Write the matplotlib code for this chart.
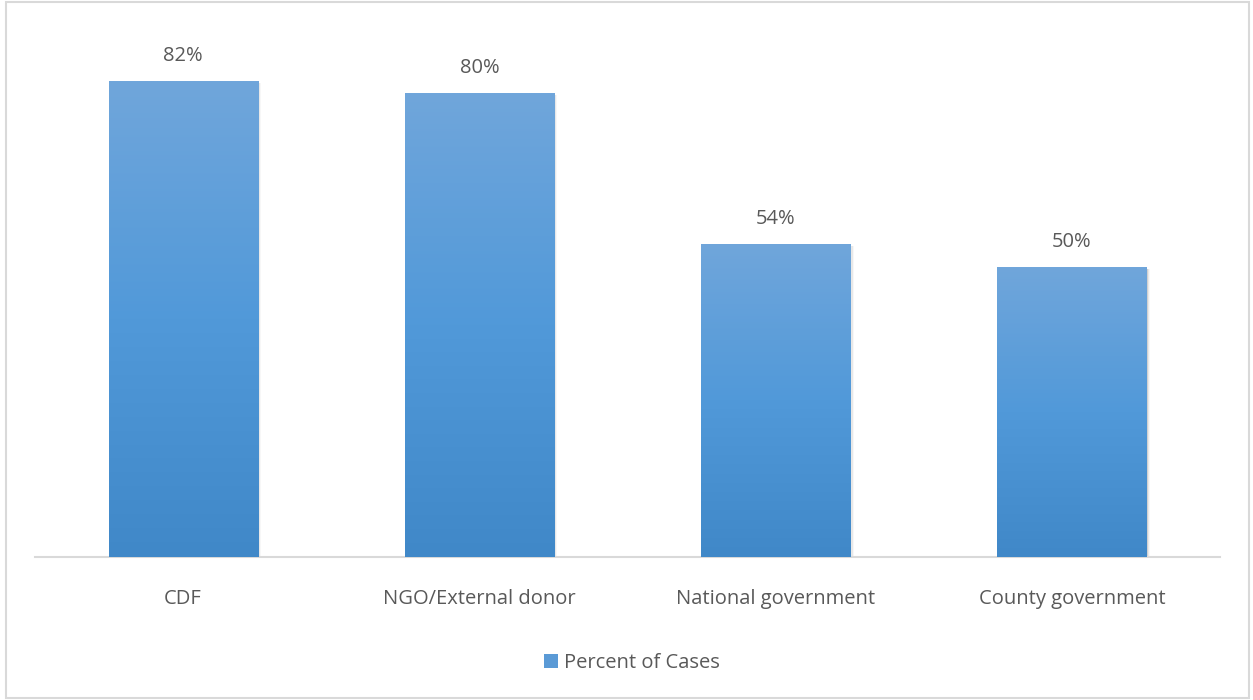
"""Bar chart of funding sources as percent of cases."""
import matplotlib
matplotlib.use("Agg")
import matplotlib.patches as mpatches
import matplotlib.pyplot as plt
import numpy as np
from matplotlib.colors import LinearSegmentedColormap

categories = ["CDF", "NGO/External donor", "National government", "County government"]
percent_of_cases = [0.82, 0.80, 0.54, 0.50]
series_name = "Percent of Cases"

TEXT = "#595959"
TOP_BLUE = "#70a6db"
BOTTOM_BLUE = "#4088c8"
FS = 14.5

plt.rcParams["font.family"] = ["Open Sans", "DejaVu Sans"]

W, H = 1253, 700
fig = plt.figure(figsize=(W / 100, H / 100), dpi=100)
fig.patch.set_facecolor("white")

# outer chart border
border = mpatches.Rectangle((6 / W, 2 / H), 1243 / W, 696 / H, transform=fig.transFigure,
                            fill=False, edgecolor="#d9d9d9", linewidth=1.5)
fig.add_artist(border)

ax = fig.add_axes([35 / W, (H - 557) / H, 1185 / W, 522 / H])
for s in ("top", "right", "left"):
    ax.spines[s].set_visible(False)
ax.spines["bottom"].set_color("#d9d9d9")
ax.spines["bottom"].set_linewidth(1.5)
ax.set_yticks([])
ax.set_xticks([])

cmap = LinearSegmentedColormap.from_list("bar", [BOTTOM_BLUE, "#5199d9", TOP_BLUE])
grad = np.linspace(0, 1, 256).reshape(-1, 1)
width = 0.503
bars = ax.bar(range(len(categories)), percent_of_cases, width=width,
              color=BOTTOM_BLUE, zorder=2, label=series_name)
for i, (bar, v) in enumerate(zip(bars, percent_of_cases)):
    x0 = bar.get_x()
    # soft shadow to the right
    for k, a in enumerate([0.10, 0.06, 0.03]):
        sh = mpatches.Rectangle((x0 + 0.004 * (k + 1), 0), width, v - 0.003,
                                facecolor="black", alpha=a, edgecolor="none", zorder=1)
        ax.add_patch(sh)
    im = ax.imshow(grad, extent=(x0, x0 + width, 0, v), origin="lower", cmap=cmap,
                   aspect="auto", zorder=3)
    im.set_clip_path(bar)
    ax.annotate(f"{v * 100:.0f}%", (i, v), xytext=(0, 18), textcoords="offset points",
                ha="center", va="center", color=TEXT, fontsize=FS)
    ax.annotate(categories[i], (i, 0), xytext=(0, -30.5), textcoords="offset points",
                ha="center", va="center", color=TEXT, fontsize=FS, annotation_clip=False)
ax.set_xlim(-0.5, len(categories) - 0.5)
ax.set_ylim(0, 0.9)

handle = mpatches.Patch(facecolor="#5a9ad6", edgecolor="none", label=series_name)
fig.legend(handles=[handle], loc="center", bbox_to_anchor=(632 / W, (H - 663) / H),
           frameon=False, fontsize=FS, labelcolor=TEXT, handlelength=0.7,
           handleheight=0.7, handletextpad=0.3)

fig.savefig("out.png", dpi=100, facecolor="white")
